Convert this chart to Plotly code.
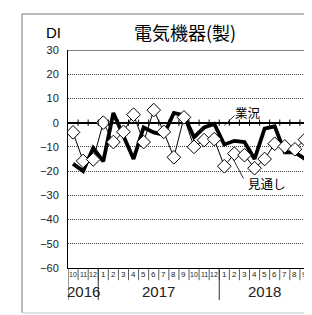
import plotly.graph_objects as go

# ---- data ----
months = ["10", "11", "12", "1", "2", "3", "4", "5", "6", "7", "8", "9",
          "10", "11", "12", "1", "2", "3", "4", "5", "6", "7", "8", "9"]
years = ["2016", "2017", "2018"]
year_spans = [(0, 3), (3, 15), (15, 24)]
gyoukyou = [-17, -20, -10.5, -16, 4, -6, -15, -2, -4, -5, 4, 3,
            -6, -2, -0.5, -9, -7.5, -8, -15, -2.5, -1.5, -12.3, -12.3, -15]
mitooshi = [-4, -15.8, -15.2, 0, -8, -3.8, 3.3, -8, 5.2, -3.8, -14.3, 2.2,
            -10, -7.2, -6.8, -18, -12.8, -13.4, -18.8, -15, -8.7, -9.8, -11, -7]
y_ticks = [30, 20, 10, 0, -10, -20, -30, -40, -50, -60]
title_text = "電気機器(製)"

x = [i + 0.5 for i in range(len(months))]

fig = go.Figure()
fig.add_trace(go.Scatter(x=x, y=gyoukyou, mode="lines",
                         line=dict(color="black", width=3.8), name="業況"))
fig.add_trace(go.Scatter(x=x, y=mitooshi, mode="lines+markers",
                         line=dict(color="black", width=1),
                         marker=dict(symbol="diamond", size=10.5, color="white",
                                     line=dict(color="black", width=1)),
                         name="見通し"))

shapes = []
# top solid border at 30
shapes.append(dict(type="line", xref="x", yref="y", x0=0, x1=24, y0=30, y1=30,
                   line=dict(color="black", width=1)))
# small ticks on zero line
for k in range(1, 24):
    shapes.append(dict(type="line", xref="x", yref="y", x0=k, x1=k, y0=-1.3, y1=1.3,
                       line=dict(color="black", width=1)))
# month separators
for k in range(1, 25):
    shapes.append(dict(type="line", xref="x", yref="paper", x0=k, x1=k, y0=0, y1=-0.056,
                       line=dict(color="#333", width=0.8)))
# year separators (incl. axis extension)
for k in [0, 3, 15]:
    shapes.append(dict(type="line", xref="x", yref="paper", x0=k, x1=k, y0=0, y1=-0.147,
                       line=dict(color="#333", width=1)))
# outer frame
shapes.append(dict(type="line", xref="paper", yref="paper", x0=-0.19, x1=-0.19, y0=1.165, y1=-0.206,
                   line=dict(color="#777", width=1)))
shapes.append(dict(type="line", xref="paper", yref="paper", x0=-0.19, x1=1.1, y0=1.165, y1=1.165,
                   line=dict(color="#777", width=1)))
shapes.append(dict(type="line", xref="paper", yref="paper", x0=-0.19, x1=1.1, y0=-0.206, y1=-0.206,
                   line=dict(color="#ccc", width=1)))
# leader lines
shapes.append(dict(type="line", xref="x", yref="y", x0=16.5, x1=15.5, y0=2.9, y1=-1.2,
                   line=dict(color="black", width=0.8)))
shapes.append(dict(type="line", xref="x", yref="y", x0=17.4, x1=16.4, y0=-23.0, y1=-15.2,
                   line=dict(color="black", width=0.8)))

annotations = []
for i, m in enumerate(months):
    annotations.append(dict(x=i + 0.5, y=-0.028, xref="x", yref="paper", text=m,
                            showarrow=False, xanchor="center", yanchor="middle",
                            font=dict(size=7 if len(m) == 2 else 8, color="#222",
                                      family="Liberation Sans")))
for yr, (a, b) in zip(years, year_spans):
    annotations.append(dict(x=(a + b) / 2, y=-0.11, xref="x", yref="paper", text=yr,
                            showarrow=False, xanchor="center", yanchor="middle",
                            font=dict(size=15, color="#222", family="Liberation Sans")))
annotations.append(dict(x=17.9, y=4.2, xref="x", yref="y", text="業況", showarrow=False,
                        font=dict(size=12.5, color="black", family="Noto Sans CJK JP")))
annotations.append(dict(x=19.7, y=-25.3, xref="x", yref="y", text="見通し", showarrow=False,
                        font=dict(size=12.5, color="black", family="Noto Sans CJK JP")))
annotations.append(dict(x=(185 - 68) / 242, y=(268 - 32) / 218, xref="paper", yref="paper",
                        text=title_text, showarrow=False, xanchor="center", yanchor="middle",
                        font=dict(size=18, color="black", family="Noto Sans CJK JP")))
annotations.append(dict(x=(53 - 68) / 242, y=(268 - 33) / 218, xref="paper", yref="paper",
                        text="DI", showarrow=False, xanchor="center", yanchor="middle",
                        font=dict(size=15, color="black", family="Liberation Sans")))

# page body has an 8px margin, so the figure is shifted; compensate here
fig.update_layout(
    width=304, height=307,
    margin=dict(l=60, r=2, t=42, b=47),
    paper_bgcolor="white", plot_bgcolor="white",
    showlegend=False,
    shapes=shapes, annotations=annotations,
    xaxis=dict(range=[0, 24], showgrid=False, zeroline=False, showticklabels=False,
               showline=True, linecolor="black", linewidth=1, ticks=""),
    yaxis=dict(range=[-60, 30], tickvals=y_ticks, showgrid=True, gridcolor="#444",
               griddash="1px,1px", gridwidth=0.9, zeroline=True, zerolinecolor="black",
               zerolinewidth=1.5, showline=True, linecolor="black", linewidth=1,
               ticks="", ticklabelstandoff=6, automargin=False,
               tickfont=dict(size=11, color="#222", family="Liberation Sans")),
)

fig.write_html("out.html")
